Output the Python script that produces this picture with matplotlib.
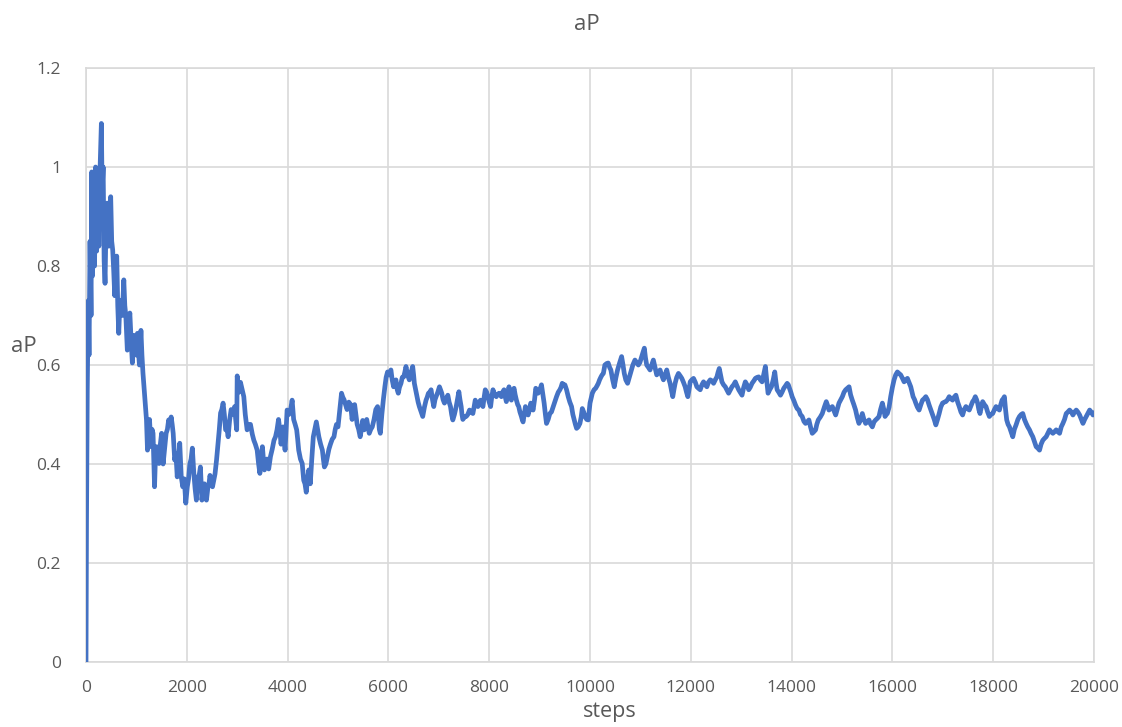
import matplotlib
matplotlib.use("Agg")
import matplotlib.pyplot as plt
import numpy as np

# ---- traced aP trajectory, split by training phase ----
steps_early = [0, 10, 25, 45, 60, 80, 100, 113, 130, 150, 170, 190, 210, 235, 255, 280, 305, 320, 340, 360,
               378, 400, 420, 450, 475, 490, 510, 530, 550, 570, 590, 610, 630, 650, 670, 700, 720, 750, 770,
               790, 820, 845, 870, 895, 920, 950, 980, 1000, 1020, 1040, 1060, 1090, 1110, 1130, 1160, 1200,
               1220, 1240, 1260, 1290, 1310, 1330, 1360, 1380, 1400, 1420, 1450, 1475, 1500, 1530, 1560, 1590,
               1615, 1640, 1665, 1690, 1710, 1730, 1760, 1785, 1810, 1835, 1860, 1890, 1920, 1950, 1980, 2010,
               2035, 2060, 2085, 2110, 2140, 2165, 2190, 2210, 2230, 2250, 2270, 2300, 2325, 2350, 2370, 2390,
               2420, 2440, 2460, 2490, 2510, 2540, 2560, 2590, 2620, 2645, 2670, 2695, 2720, 2745, 2770, 2800,
               2820, 2850, 2880, 2910, 2930, 2950, 2970, 2990]
ap_early = [0.0, 0.28, 0.55, 0.73, 0.62, 0.85, 0.70, 0.99, 0.78, 0.93, 0.80, 1.0, 0.83, 0.98, 0.84, 1.0, 1.088,
            0.95, 1.0, 0.81, 0.765, 0.90, 0.927, 0.84, 0.90, 0.94, 0.85, 0.832, 0.79, 0.74, 0.80, 0.82, 0.72,
            0.664, 0.72, 0.731, 0.70, 0.772, 0.72, 0.70, 0.63, 0.68, 0.705, 0.65, 0.604, 0.66, 0.65, 0.62,
            0.664, 0.63, 0.60, 0.67, 0.62, 0.584, 0.543, 0.489, 0.428, 0.47, 0.49, 0.435, 0.47, 0.462, 0.354,
            0.42, 0.435, 0.41, 0.401, 0.44, 0.462, 0.40, 0.43, 0.462, 0.47, 0.489, 0.48, 0.495, 0.48, 0.462,
            0.408, 0.42, 0.374, 0.41, 0.442, 0.374, 0.354, 0.37, 0.321, 0.354, 0.37, 0.40, 0.41, 0.432, 0.38,
            0.35, 0.327, 0.36, 0.374, 0.38, 0.394, 0.327, 0.35, 0.36, 0.34, 0.327, 0.354, 0.36, 0.377, 0.36,
            0.354, 0.37, 0.38, 0.408, 0.442, 0.47, 0.503, 0.51, 0.523, 0.50, 0.469, 0.47, 0.455, 0.489, 0.51,
            0.503, 0.50, 0.516, 0.49, 0.469]

steps_mid = [3000, 3030, 3065, 3100, 3131, 3160, 3197, 3230, 3263, 3300, 3330, 3360, 3396, 3425, 3450, 3475,
             3500, 3520, 3540, 3565, 3590, 3625, 3660, 3695, 3730, 3760, 3790, 3820, 3845, 3870, 3890, 3910,
             3930, 3950, 3970, 3990, 4025, 4060, 4090, 4120, 4150, 4180, 4200, 4220, 4255, 4290, 4320, 4345,
             4370, 4395, 4420, 4450, 4480, 4510, 4540, 4570, 4595, 4620, 4655, 4690, 4710, 4730, 4760, 4790,
             4820, 4850, 4885, 4920, 4945, 4970, 5000, 5035, 5070, 5095, 5120, 5150, 5180, 5215, 5250, 5280,
             5305, 5330, 5355, 5380, 5410, 5440, 5465, 5490, 5520, 5545, 5570, 5595, 5620, 5650, 5680, 5715,
             5750, 5785, 5820, 5840, 5870, 5900, 5930, 5955, 5983, 6015, 6050, 6075, 6103, 6125, 6150, 6175,
             6196, 6220, 6250, 6275, 6303, 6325, 6349, 6380, 6415, 6450, 6482, 6500, 6515, 6540, 6568, 6590,
             6614, 6650, 6681, 6715, 6747, 6770, 6794, 6820, 6847, 6875, 6900, 6925, 6946, 6980, 7013, 7035,
             7059, 7085, 7112, 7145, 7179, 7205, 7232, 7255, 7278, 7310, 7345, 7370, 7398, 7420, 7444, 7460,
             7477, 7510, 7544, 7575, 7610, 7640, 7676, 7700, 7723, 7750, 7776, 7800, 7829, 7850, 7876, 7900,
             7922, 7950, 7975, 8000, 8028, 8050, 8075, 8110, 8141, 8165, 8194, 8220, 8241, 8265, 8294, 8320,
             8340, 8365, 8393, 8415, 8440, 8465, 8493, 8515, 8540, 8565, 8586, 8610, 8639, 8655, 8672, 8695,
             8719, 8745, 8772, 8800, 8825, 8850, 8871, 8900, 8924, 8950, 8971, 9005, 9037, 9065, 9090, 9115,
             9137, 9170, 9203, 9235, 9270, 9300, 9336, 9370, 9402, 9425, 9449, 9475, 9502, 9535, 9568, 9600,
             9634, 9660, 9687, 9710, 9734, 9765, 9800, 9825, 9847, 9875, 9900, 9935, 9966]
ap_mid = [0.578, 0.545, 0.565, 0.55, 0.536, 0.50, 0.469, 0.48, 0.48, 0.46, 0.448, 0.44, 0.428, 0.40, 0.381,
          0.41, 0.435, 0.41, 0.388, 0.40, 0.41, 0.39, 0.415, 0.43, 0.448, 0.455, 0.469, 0.49, 0.47, 0.44, 0.46,
          0.475, 0.45, 0.428, 0.47, 0.509, 0.50, 0.51, 0.529, 0.49, 0.48, 0.469, 0.45, 0.428, 0.41, 0.401,
          0.367, 0.36, 0.343, 0.37, 0.388, 0.36, 0.41, 0.455, 0.47, 0.485, 0.47, 0.455, 0.44, 0.428, 0.41,
          0.394, 0.40, 0.415, 0.43, 0.44, 0.45, 0.455, 0.47, 0.48, 0.475, 0.51, 0.543, 0.535, 0.53, 0.52, 0.51,
          0.525, 0.52, 0.49, 0.51, 0.52, 0.50, 0.48, 0.47, 0.455, 0.47, 0.488, 0.469, 0.48, 0.49, 0.475, 0.462,
          0.47, 0.475, 0.49, 0.51, 0.516, 0.47, 0.462, 0.50, 0.53, 0.556, 0.575, 0.586, 0.58, 0.59, 0.57,
          0.556, 0.565, 0.57, 0.55, 0.543, 0.555, 0.563, 0.575, 0.576, 0.585, 0.597, 0.58, 0.57, 0.585, 0.597,
          0.58, 0.563, 0.55, 0.536, 0.525, 0.516, 0.505, 0.496, 0.515, 0.529, 0.535, 0.543, 0.545, 0.55, 0.53,
          0.516, 0.53, 0.536, 0.545, 0.556, 0.55, 0.543, 0.53, 0.523, 0.53, 0.539, 0.525, 0.516, 0.50, 0.489,
          0.50, 0.516, 0.53, 0.546, 0.53, 0.516, 0.50, 0.49, 0.495, 0.496, 0.50, 0.509, 0.505, 0.502, 0.515,
          0.529, 0.52, 0.516, 0.525, 0.529, 0.52, 0.516, 0.535, 0.55, 0.545, 0.536, 0.525, 0.516, 0.535, 0.55,
          0.54, 0.536, 0.54, 0.543, 0.54, 0.536, 0.545, 0.55, 0.535, 0.526, 0.54, 0.556, 0.54, 0.529, 0.545,
          0.553, 0.54, 0.529, 0.52, 0.516, 0.505, 0.496, 0.49, 0.485, 0.50, 0.516, 0.505, 0.499, 0.51, 0.523,
          0.515, 0.509, 0.53, 0.553, 0.548, 0.543, 0.55, 0.56, 0.54, 0.523, 0.50, 0.482, 0.49, 0.502, 0.505,
          0.516, 0.525, 0.536, 0.545, 0.55, 0.555, 0.563, 0.56, 0.56, 0.55, 0.536, 0.525, 0.516, 0.50, 0.489,
          0.48, 0.472, 0.475, 0.482, 0.495, 0.512, 0.505, 0.496, 0.49, 0.489]

steps_late = [10000, 10046, 10080, 10112, 10140, 10165, 10190, 10218, 10240, 10265, 10295, 10331, 10361, 10390,
              10414, 10450, 10481, 10515, 10547, 10590, 10627, 10655, 10680, 10710, 10746, 10780, 10813, 10850,
              10892, 10925, 10959, 10990, 11025, 11050, 11078, 11100, 11125, 11160, 11191, 11225, 11257, 11290,
              11324, 11355, 11390, 11420, 11457, 11490, 11523, 11555, 11589, 11615, 11642, 11665, 11689, 11720,
              11755, 11790, 11822, 11855, 11888, 11915, 11941, 11965, 11988, 12020, 12054, 12090, 12120, 12150,
              12187, 12220, 12253, 12285, 12319, 12350, 12386, 12420, 12452, 12485, 12518, 12540, 12565, 12590,
              12618, 12650, 12684, 12715, 12750, 12785, 12817, 12850, 12883, 12915, 12950, 12980, 13016, 13050,
              13082, 13115, 13149, 13180, 13215, 13250, 13281, 13315, 13348, 13380, 13414, 13445, 13480, 13505,
              13533, 13565, 13600, 13635, 13666, 13690, 13713, 13745, 13779, 13810, 13845, 13880, 13912, 13935,
              13958, 13985, 14011, 14045, 14078, 14110, 14144, 14175, 14210, 14245, 14277, 14310, 14343, 14375,
              14410, 14440, 14476, 14500, 14529, 14570, 14609, 14650, 14688, 14715, 14741, 14775, 14808, 14840,
              14874, 14905, 14940, 14975, 15007, 15040, 15073, 15105, 15140]
ap_late = [0.523, 0.543, 0.55, 0.553, 0.558, 0.563, 0.57, 0.576, 0.58, 0.583, 0.60, 0.603, 0.604, 0.595, 0.59,
           0.57, 0.556, 0.575, 0.59, 0.605, 0.617, 0.60, 0.583, 0.57, 0.563, 0.575, 0.586, 0.60, 0.61, 0.605,
           0.60, 0.605, 0.617, 0.625, 0.634, 0.615, 0.60, 0.595, 0.59, 0.60, 0.61, 0.595, 0.58, 0.585, 0.59, 0.58,
           0.57, 0.58, 0.59, 0.575, 0.563, 0.55, 0.536, 0.55, 0.563, 0.575, 0.583, 0.578, 0.573, 0.565, 0.556,
           0.545, 0.536, 0.55, 0.566, 0.57, 0.573, 0.565, 0.556, 0.553, 0.55, 0.56, 0.566, 0.56, 0.556, 0.565,
           0.57, 0.568, 0.563, 0.57, 0.576, 0.585, 0.593, 0.58, 0.566, 0.56, 0.556, 0.55, 0.543, 0.55, 0.556,
           0.56, 0.566, 0.558, 0.55, 0.545, 0.539, 0.555, 0.566, 0.56, 0.55, 0.555, 0.563, 0.568, 0.573, 0.575,
           0.576, 0.57, 0.566, 0.58, 0.597, 0.57, 0.543, 0.55, 0.556, 0.57, 0.586, 0.565, 0.55, 0.545, 0.539,
           0.545, 0.553, 0.558, 0.563, 0.56, 0.553, 0.545, 0.536, 0.528, 0.519, 0.512, 0.509, 0.50, 0.496, 0.486,
           0.482, 0.485, 0.489, 0.475, 0.462, 0.465, 0.469, 0.48, 0.489, 0.495, 0.502, 0.515, 0.526, 0.518,
           0.509, 0.512, 0.516, 0.508, 0.499, 0.51, 0.523, 0.53, 0.536, 0.545, 0.55, 0.553, 0.556]

steps_final = [15170, 15204, 15235, 15270, 15300, 15336, 15370, 15403, 15435, 15469, 15500, 15535, 15570, 15602,
               15635, 15668, 15700, 15734, 15765, 15801, 15830, 15854, 15880, 15900, 15935, 15966, 16000, 16033,
               16065, 16099, 16130, 16165, 16200, 16232, 16265, 16298, 16330, 16364, 16390, 16411, 16440, 16464,
               16495, 16530, 16565, 16597, 16630, 16663, 16695, 16729, 16760, 16796, 16830, 16862, 16895, 16928,
               16960, 16995, 17030, 17061, 17095, 17127, 17160, 17194, 17225, 17260, 17295, 17326, 17360, 17393,
               17425, 17459, 17490, 17525, 17560, 17592, 17620, 17645, 17670, 17691, 17715, 17738, 17765, 17791,
               17825, 17857, 17890, 17924, 17955, 17990, 18025, 18056, 18090, 18123, 18150, 18176, 18200, 18222,
               18245, 18268, 18295, 18322, 18355, 18388, 18420, 18454, 18490, 18521, 18555, 18587, 18620, 18653,
               18685, 18720, 18750, 18786, 18820, 18852, 18885, 18919, 18950, 18985, 19020, 19051, 19085, 19118,
               19150, 19184, 19215, 19250, 19285, 19317, 19350, 19383, 19415, 19449, 19480, 19516, 19550, 19582,
               19615, 19648, 19680, 19715, 19750, 19781, 19815, 19847, 19880, 19914, 19945, 19980, 20000]
ap_final = [0.54, 0.529, 0.52, 0.509, 0.495, 0.482, 0.49, 0.502, 0.49, 0.482, 0.485, 0.489, 0.48, 0.475, 0.485,
            0.489, 0.492, 0.496, 0.51, 0.523, 0.51, 0.496, 0.50, 0.502, 0.515, 0.536, 0.555, 0.57, 0.58, 0.586,
            0.583, 0.58, 0.573, 0.566, 0.57, 0.573, 0.565, 0.556, 0.545, 0.536, 0.53, 0.523, 0.515, 0.509, 0.52,
            0.529, 0.532, 0.536, 0.53, 0.519, 0.51, 0.499, 0.49, 0.479, 0.49, 0.502, 0.515, 0.523, 0.525, 0.526,
            0.53, 0.536, 0.532, 0.529, 0.535, 0.539, 0.525, 0.516, 0.505, 0.499, 0.51, 0.516, 0.512, 0.509, 0.518,
            0.526, 0.53, 0.536, 0.53, 0.523, 0.51, 0.502, 0.515, 0.526, 0.52, 0.516, 0.505, 0.496, 0.50, 0.502,
            0.51, 0.516, 0.512, 0.509, 0.52, 0.529, 0.532, 0.536, 0.51, 0.489, 0.48, 0.475, 0.465, 0.455, 0.47,
            0.479, 0.49, 0.496, 0.50, 0.502, 0.49, 0.482, 0.475, 0.469, 0.462, 0.455, 0.445, 0.435, 0.432, 0.428,
            0.44, 0.448, 0.452, 0.455, 0.462, 0.469, 0.465, 0.462, 0.465, 0.469, 0.465, 0.462, 0.475, 0.482, 0.49,
            0.502, 0.505, 0.509, 0.505, 0.499, 0.505, 0.509, 0.505, 0.499, 0.49, 0.482, 0.49, 0.496, 0.502, 0.509,
            0.505, 0.499, 0.502]

x_ticks = [0, 2000, 4000, 6000, 8000, 10000, 12000, 14000, 16000, 18000, 20000]
y_ticks = [0, 0.2, 0.4, 0.6, 0.8, 1.0, 1.2]
y_tick_labels = ["0", "0.2", "0.4", "0.6", "0.8", "1", "1.2"]

steps = np.array(steps_early + steps_mid + steps_late + steps_final)
ap = np.array(ap_early + ap_mid + ap_late + ap_final)

plt.rcParams["font.family"] = ["Open Sans", "DejaVu Sans"]
TEXT = "#595959"
GRID = "#d9d9d9"
LINE = "#4472C4"

fig = plt.figure(figsize=(11.22, 7.27), dpi=100)
ax = fig.add_axes([86 / 1122, 65 / 727, 1008 / 1122, 594 / 727])

ax.plot(steps, ap, color=LINE, lw=3.4, solid_joinstyle="round", zorder=3)

ax.set_xlim(0, 20000)
ax.set_ylim(0, 1.2)
ax.set_xticks(x_ticks)
ax.set_xticklabels([str(t) for t in x_ticks])
ax.set_yticks(y_ticks)
ax.set_yticklabels(y_tick_labels)
ax.grid(True, color=GRID, lw=1.2, zorder=0)
ax.set_axisbelow(True)
for s in ax.spines.values():
    s.set_color(GRID)
    s.set_linewidth(1.2)
ax.tick_params(length=0, labelsize=12.5, colors=TEXT, pad=13)
ax.tick_params(axis="y", pad=18)

fig.text(587 / 1122, 1 - 25 / 727, "aP", ha="center", va="center", fontsize=16, color=TEXT)
fig.text(24 / 1122, 1 - 346 / 727, "aP", ha="center", va="center", fontsize=16, color=TEXT)
fig.text(610 / 1122, 1 - 712 / 727, "steps", ha="center", va="center", fontsize=15.5, color=TEXT)

fig.savefig("out.png", dpi=100)
